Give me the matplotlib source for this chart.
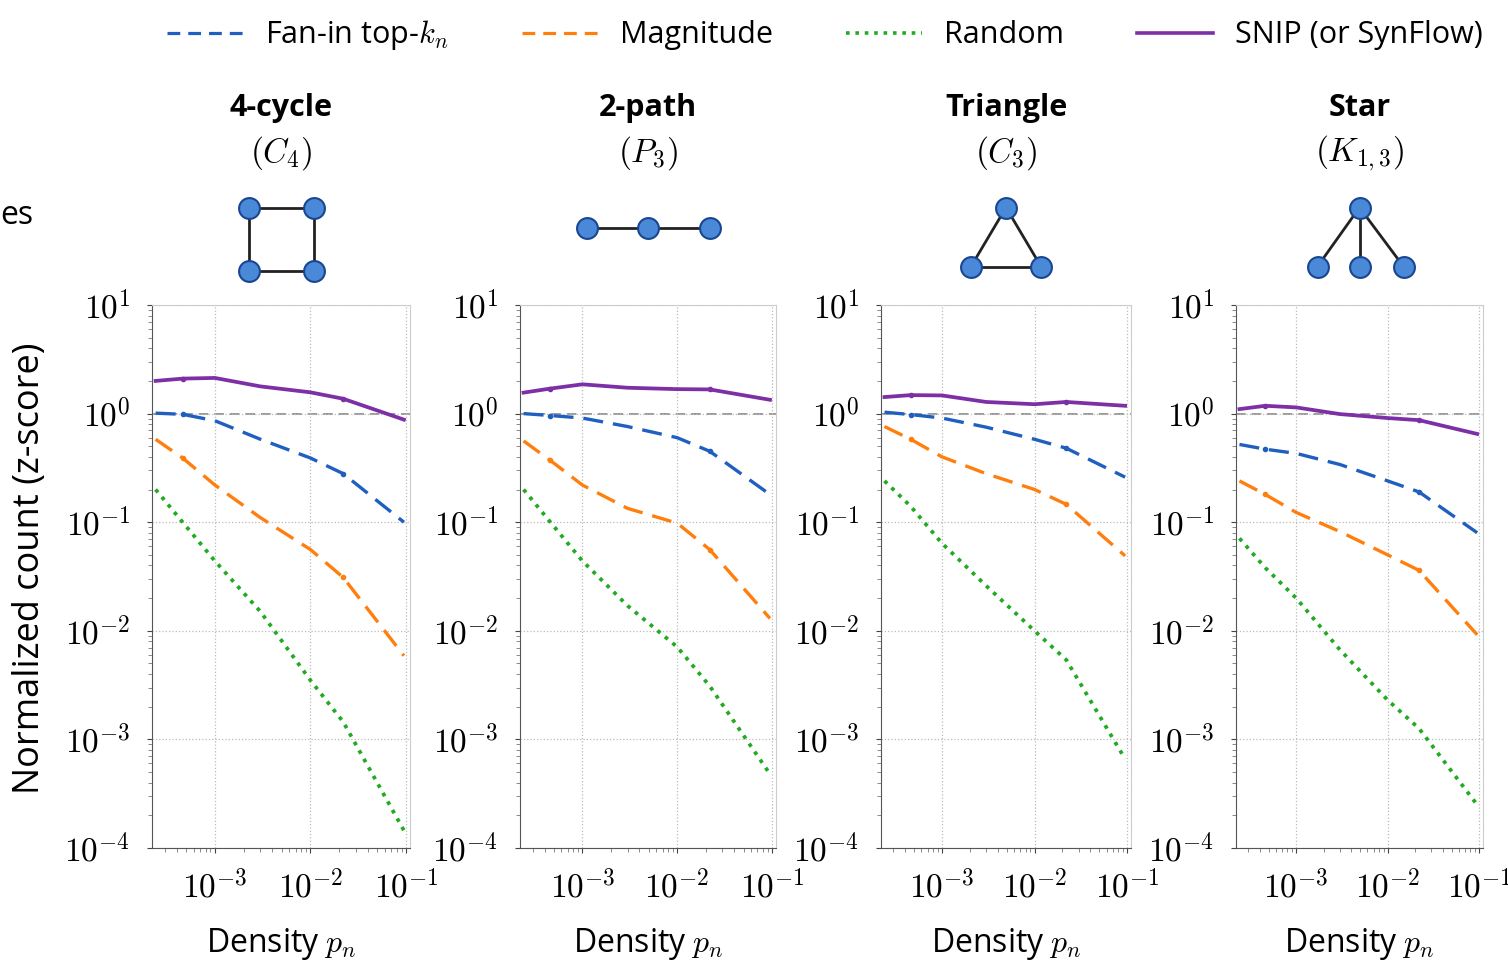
import numpy as np
import matplotlib
matplotlib.use("Agg")
import matplotlib.pyplot as plt
from matplotlib.ticker import FuncFormatter, LogLocator, NullFormatter
from matplotlib.lines import Line2D

plt.rcParams['font.family'] = ['Open Sans', 'DejaVu Sans']
plt.rcParams['mathtext.fontset'] = 'cm'

# densities where the curves were sampled
density = [2.4e-4, 4.6e-4, 1e-3, 3e-3, 1e-2, 2.2e-2, 9.5e-2]

motif_names = ["4-cycle", "2-path", "Triangle", "Star"]
motif_symbols = [r"$(C_4)$", r"$(P_3)$", r"$(C_3)$", r"$(K_{1,3})$"]

# normalized counts per motif
fanin = [
    [1.01, 0.985, 0.86, 0.58, 0.39, 0.28, 0.10],
    [1.0, 0.96, 0.91, 0.76, 0.60, 0.45, 0.18],
    [1.03, 0.98, 0.91, 0.75, 0.58, 0.48, 0.26],
    [0.52, 0.47, 0.43, 0.34, 0.24, 0.19, 0.08],
]
magnitude = [
    [0.58, 0.39, 0.22, 0.11, 0.056, 0.031, 0.0059],
    [0.56, 0.37, 0.22, 0.134, 0.098, 0.056, 0.013],
    [0.76, 0.58, 0.40, 0.28, 0.20, 0.146, 0.049],
    [0.24, 0.18, 0.123, 0.082, 0.05, 0.036, 0.0092],
]
random_ = [
    [0.2, 0.1, 0.044, 0.015, 0.0035, 0.00145, 0.000145],
    [0.2, 0.1, 0.044, 0.017, 0.0071, 0.0031, 0.00048],
    [0.24, 0.14, 0.064, 0.026, 0.01, 0.0054, 0.00066],
    [0.071, 0.038, 0.02, 0.0067, 0.0023, 0.00126, 0.00025],
]
snip = [
    [2.0, 2.1, 2.13, 1.78, 1.57, 1.37, 0.88],
    [1.56, 1.7, 1.86, 1.73, 1.68, 1.67, 1.34],
    [1.42, 1.48, 1.47, 1.28, 1.22, 1.28, 1.18],
    [1.1, 1.18, 1.14, 0.99, 0.91, 0.87, 0.65],
]

# motif drawings: node offsets (pixels) and edges
motif_nodes = [
    [(-32, 31), (33, 31), (-32, -32), (33, -32)],
    [(-61, 11), (0, 11), (62, 11)],
    [(0, 31), (-35, -28), (35, -28)],
    [(0, 31), (-42, -28), (0, -28), (44, -28)],
]
motif_edges = [
    [(0, 1), (1, 3), (3, 2), (2, 0)],
    [(0, 1), (1, 2)],
    [(0, 1), (1, 2), (2, 0)],
    [(0, 1), (0, 2), (0, 3)],
]

c_blue = '#1f5fbf'
c_orange = '#ff7f0e'
c_green = '#22aa22'
c_purple = '#7d2fa6'

W, H = 1508, 961
fig = plt.figure(figsize=(W / 100, H / 100), dpi=100)

panel_px = [(152, 410), (520, 776), (881, 1131), (1236, 1483)]
top_px, bot_px = 305, 848

logfmt = FuncFormatter(lambda v, _: r'$10^{%d}$' % round(np.log10(v)))

for i, (l, r) in enumerate(panel_px):
    ax = fig.add_axes([l / W, 1 - bot_px / H, (r - l) / W, (bot_px - top_px) / H])
    ax.plot(density, fanin[i], color=c_blue, ls=(0, (6, 3)), lw=2.4,
            marker='o', ms=3, markevery=[1, 5])
    ax.plot(density, magnitude[i], color=c_orange, ls=(0, (6, 3)), lw=2.4,
            marker='o', ms=3, markevery=[1, 5])
    ax.plot(density, random_[i], color=c_green, ls=(0, (1, 1.6)), lw=2.7)
    ax.plot(density, snip[i], color=c_purple, ls='-', lw=2.7,
            marker='o', ms=3, markevery=[1, 5])
    ax.axhline(1.0, color='#999999', ls=(0, (5, 3)), lw=1.4, zorder=0)

    ax.set_xscale('log')
    ax.set_yscale('log')
    ax.set_xlim(2.2e-4, 1.1e-1)
    ax.set_ylim(1e-4, 1e1)
    ax.set_xticks([1e-3, 1e-2, 1e-1])
    ax.xaxis.set_major_formatter(logfmt)
    ax.xaxis.set_minor_formatter(NullFormatter())
    ax.yaxis.set_major_locator(LogLocator(base=10, numticks=10))
    ax.yaxis.set_major_formatter(logfmt)
    ax.yaxis.set_minor_locator(LogLocator(base=10, subs=np.arange(2, 10), numticks=20))
    ax.yaxis.set_minor_formatter(NullFormatter())
    ax.tick_params(labelsize=24, colors='#444444', labelcolor='black')
    ax.tick_params(axis='y', pad=12)
    ax.tick_params(axis='x', pad=13)
    ax.tick_params(which='minor', colors='#777777', length=3)
    ax.grid(True, which='major', ls=':', color='#bbbbbb', lw=0.9)
    for side in ['top', 'right']:
        ax.spines[side].set_color('#cccccc')
    for side in ['left', 'bottom']:
        ax.spines[side].set_color('#555555')
    ax.set_xlabel(r'Density $p_n$', fontsize=23, labelpad=14)

    cx = (l + r) / 2
    fig.text(cx / W, 1 - 108 / H, motif_names[i], ha='center', va='center',
             fontsize=22, fontweight='bold')
    fig.text(cx / W, 1 - 153 / H, motif_symbols[i], ha='center', va='center',
             fontsize=24)

    # small motif sketch
    iw = r - l
    iax = fig.add_axes([l / W, 1 - 286 / H, iw / W, 95 / H])
    iax.set_xlim(-iw / 2, iw / 2)
    iax.set_ylim(-47.5, 47.5)
    iax.axis('off')
    nodes = motif_nodes[i]
    for a, b in motif_edges[i]:
        iax.plot([nodes[a][0], nodes[b][0]], [nodes[a][1], nodes[b][1]],
                 color='#222222', lw=2, zorder=1)
    iax.plot([p[0] for p in nodes], [p[1] for p in nodes], 'o', ms=15,
             mfc='#4a88d8', mec='#1a4690', mew=1.5, zorder=2)

fig.text(30 / W, 1 - 568 / H, 'Normalized count (z-score)', rotation=90,
         ha='center', va='center', fontsize=26)
fig.text(0.0, 1 - 215 / H, 'es', ha='left', va='center', fontsize=23)

handles = [
    Line2D([], [], color=c_blue, ls=(0, (4, 2.5)), lw=2.3),
    Line2D([], [], color=c_orange, ls=(0, (4, 2.5)), lw=2.3),
    Line2D([], [], color=c_green, ls=(0, (1, 1.6)), lw=2.6),
    Line2D([], [], color=c_purple, ls='-', lw=2.6),
]
labels = [r'Fan-in top-$k_n$', 'Magnitude', 'Random', 'SNIP (or SynFlow)']
fig.legend(handles, labels, loc='upper center', bbox_to_anchor=(825 / W, 1.0),
           ncol=4, frameon=False, fontsize=22, handlelength=2.5,
           handletextpad=0.7, columnspacing=2.4, borderaxespad=0.2)

fig.savefig('out.png', dpi=100)
